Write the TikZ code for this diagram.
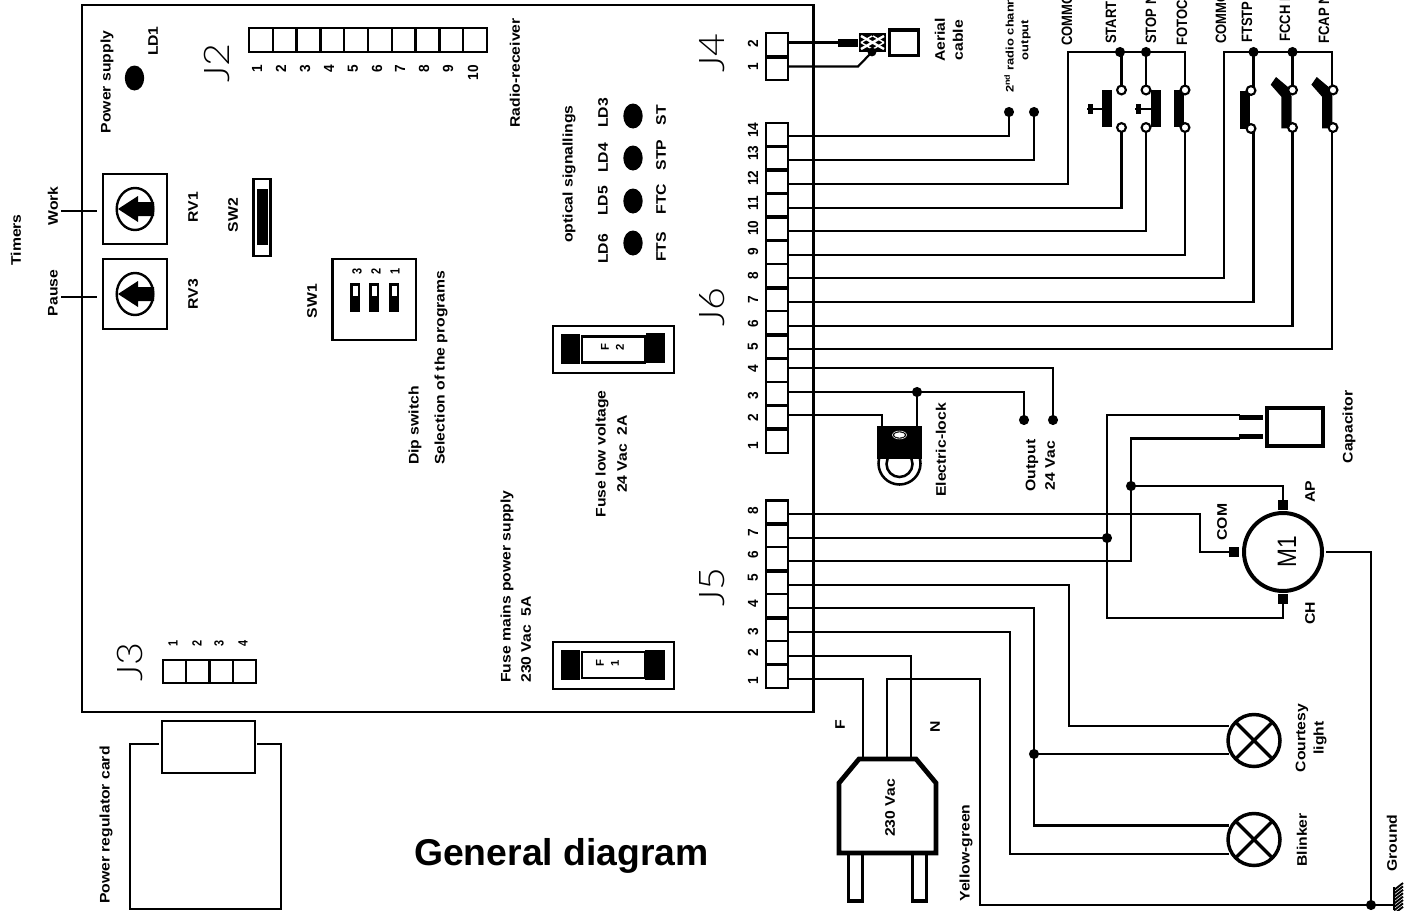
\documentclass[tikz,border=0pt]{standalone}
\usepackage{fontspec}
\setmainfont{Liberation Sans}
\newfontface\lfface[FakeStretch=1.135]{Liberation Sans Bold}
\newfontface\topface[FakeStretch=0.87]{Liberation Sans Bold}
\newfontface\smface[FakeStretch=1.18]{Liberation Sans Bold}
\newfontface\numface[FakeStretch=0.93]{Liberation Sans Bold}
\newfontface\tnyface[FakeStretch=0.82]{Liberation Sans Bold}
\newfontface\fuface{Liberation Sans Bold}
\newfontface\connface[FakeStretch=1.12]{Lato Light}
\newcommand{\lf}{\lfface\fontsize{10.4pt}{12pt}\selectfont}
\newcommand{\topf}{\topface\fontsize{11.25pt}{13pt}\selectfont}
\newcommand{\smf}{\smface\fontsize{8.2pt}{10pt}\selectfont}
\newcommand{\numf}{\numface\fontsize{11pt}{12pt}\selectfont}
\newcommand{\tnyf}{\tnyface\fontsize{10pt}{11pt}\selectfont}
\newcommand{\fuf}{\fuface\fontsize{8.5pt}{10pt}\selectfont}
\tikzset{
  lab/.style={rotate=90,inner sep=0pt,font=\lf},
  toplab/.style={rotate=90,inner sep=0pt,anchor=west,font=\topf},
  smlab/.style={rotate=90,inner sep=0pt,font=\smf},
  numlab/.style={rotate=90,inner sep=0pt,font=\numf},
  tinylab/.style={rotate=90,inner sep=0pt,font=\tnyf},
  fuselab/.style={rotate=90,inner sep=0pt,font=\fuf},
  connlab/.style={rotate=90,inner sep=0pt,font=\connface\fontsize{26.5pt}{28pt}\selectfont},
  wire/.style={line width=1.6pt,line join=miter,line cap=rect},
  box/.style={line width=1.8pt},
  dot/.style={circle,fill=black,inner sep=0pt,minimum size=7.6pt},
  contact/.style={circle,draw=black,fill=white,line width=1.6pt,inner sep=0pt,minimum size=6.6pt},
  led/.style={fill=black,draw=none}
}
\begin{document}
\begin{tikzpicture}[x=0.75pt,y=-0.75pt]
\useasboundingbox (0,0) rectangle (1406,910);
\clip (0,0) rectangle (1406,910);
\fill[white] (0,0) rectangle (1406,910);

% ---- board
\draw[box] (82,5) rectangle (813.5,712);

% ---- terminal coordinates
\foreach \n/\y in {14/136,13/160,12/184,11/208,10/231,9/255,8/278,7/302,6/326,5/349,4/368,3/392,2/415}
  \coordinate (t6-\n) at (789,\y);
\foreach \n/\y in {8/514,7/538,6/561,5/585,4/608,3/632,2/656,1/679}
  \coordinate (t5-\n) at (789,\y);
\coordinate (t4-2) at (789,42.5);
\coordinate (t4-1) at (789,66.5);

% ---- connector J2
\foreach \i in {1,...,10} \draw[box] ({249+(\i-1)*23.8},28) rectangle ({249+\i*23.8},52);
\foreach \i/\x in {1/257,2/281,3/305,4/329,5/353,6/377,7/400,8/424,9/448,10/473}
  \node[numlab,anchor=east] (j2n\i) at (\x,65) {\i};
\node[connlab] (J2lab) at (217,63) {J2};

% ---- connector J3
\foreach \i in {1,...,4} \draw[box] ({163+(\i-1)*23.25},660) rectangle ({163+\i*23.25},683);
\foreach \i/\x in {1/173,2/197,3/219,4/243}
  \node[tinylab] (j3n\i) at (\x,643) {\i};
\node[connlab] (J3lab) at (130,662) {J3};

% ---- connector J4
\draw[box] (766,33) rectangle (788,80);
\draw[line width=2.6pt] (766,57) -- (788,57);
\node[numlab] (j4n2) at (753,44) {2};
\node[numlab] (j4n1) at (753,67) {1};
\node[connlab] (J4lab) at (712,53) {J4};

% ---- connector J6
\draw[box] (766,123) rectangle (788,453);
\foreach \k/\w in {1/2.6,2/2.6,3/2.6,4/2.6,5/2.6,6/1.6,7/2.6,8/1.6,9/2.6,10/2.6,11/1.6,12/2.6,13/2.6}
  \draw[line width=\w pt] (766,{123+\k*23.55}) -- (788,{123+\k*23.55});
\foreach \n/\y in {14/130,13/153,12/178,11/203,10/228,9/252,8/276,7/300,6/324,5/347,4/369,3/396,2/418,1/446}
  \node[numlab] (j6n\n) at (753,\y) {\n};
\node[connlab] (J6lab) at (712,307) {J6};

% ---- connector J5
\draw[box] (766,500.5) rectangle (788,688);
\foreach \k/\w in {1/2.8,2/1.6,3/2.8,4/1.6,5/2.8,6/1.6,7/2.8}
  \draw[line width=\w pt] (766,{500.5+\k*23.44}) -- (788,{500.5+\k*23.44});
\foreach \n/\y in {8/511,7/533,6/555,5/578,4/604,3/632,2/653,1/681}
  \node[numlab] (j5n\n) at (753,\y) {\n};
\node[connlab] (J5lab) at (712,587) {J5};

% ---- LED power
\fill[led] (134.5,78) ellipse (9.7 and 12.5);
\node[lab] (psu) at (107,82) {Power supply};
\node[lab,anchor=east] (ld1) at (153,26) {LD1};
\node[lab] (radio) at (515,73) {Radio-receiver};

% ---- timers
\node[lab] (timers) at (16,240) {Timers};
\node[lab] (work) at (53,206) {Work};
\node[lab] (pause) at (53,293) {Pause};
\coordinate (wa) at (62,211); \coordinate (wb) at (96,211);
\coordinate (pa) at (62,297); \coordinate (pb) at (96,297);
\draw[wire] (wa) -- (wb);
\draw[wire] (pa) -- (pb);
\foreach \yy/\nm in {174/1,259/3}{
  \draw[box] (103,\yy) rectangle (167,\yy+70);
  \draw[box] (135,\yy+35) ellipse (18.3 and 21);
  \fill[black] (118,\yy+35) -- (138,\yy+22) -- (138,\yy+28) -- (154,\yy+28) -- (154,\yy+42) -- (138,\yy+42) -- (138,\yy+48) -- cycle;
}
\node[lab] (rv1) at (193,207) {RV1};
\node[lab] (rv3) at (193,294) {RV3};

% ---- SW2
\node[lab] (sw2lab) at (233,215) {SW2};
\draw[box] (253.5,179) rectangle (270.5,256);
\fill[black] (257,189) rectangle (267.5,245);

% ---- SW1
\node[lab] (sw1lab) at (312,301) {SW1};
\draw[box] (332.5,259) rectangle (416,340);
\foreach \x/\i in {350/3,369/2,389/1}{
  \fill[black] (\x,283) rectangle (\x+10,312);
  \fill[white] (\x+2.5,285.5) rectangle (\x+7.5,296);
}
\foreach \i/\x in {3/357,2/376,1/395}
  \node[tinylab] (sw1n\i) at (\x,271) {\i};
\node[lab,anchor=west] (dip) at (415,465) {Dip switch};
\node[lab,anchor=west] (sel) at (441,465) {Selection of the programs};

% ---- optical signallings
\node[lab] (opt) at (569,174) {optical signallings};
\foreach \y/\t in {113/LD3,158/LD4,201/LD5,249/LD6}
  \node[lab] (n\t) at (603,\y) {\t};
\foreach \y in {116,158,201,243}
  \fill[led] (633,\y) ellipse (9.7 and 12.5);
\foreach \y/\t in {115/ST,155/STP,199/FTC,247/FTS}
  \node[lab] (n\t) at (661,\y) {\t};

% ---- fuse F2
\draw[line width=2pt] (553,326) rectangle (674,373);
\fill[black] (561,334) rectangle (580,363.5);
\fill[black] (646,333) rectangle (665,363);
\draw[box] (582,336.5) rectangle (645,362.5);
\node[fuselab] (f2a) at (605,347) {F};
\node[fuselab] (f2b) at (620,347) {2};
\node[lab] (fl1) at (602,454) {Fuse low voltage};
\node[lab] (fl2) at (622,454) {24 Vac\ \ 2A};

% ---- fuse F1
\draw[line width=2pt] (553,642) rectangle (674,689);
\fill[black] (561,650) rectangle (580,680);
\fill[black] (645,650) rectangle (665,680);
\draw[box] (582,652) rectangle (645,678);
\node[fuselab] (f1a) at (600,663) {F};
\node[fuselab] (f1b) at (615,663) {1};
\node[lab,anchor=west] (fm1) at (507,683) {Fuse mains power supply};
\node[lab,anchor=west] (fm2) at (526,683) {230 Vac\ \ 5A};

% ---- power regulator card
\coordinate (prA) at (159,744); \coordinate (prB) at (257,744);
\draw[box] (prA) -- (130,744) -- (130,909) -- (281,909) -- (281,744) -- (prB);
\draw[box] (162,721) rectangle (255,773);
\node[lab] (prc) at (106,825) {Power regulator card};
\node[inner sep=0pt,font=\fontsize{28pt}{30pt}\selectfont\bfseries] (title) at (561.5,856) {General diagram};

% ---- aerial
\fill[black] (838,38.5) rectangle (858,47);
\fill[black] (859,33) rectangle (886,52);
\draw[white,line width=1.8pt] (861,36) -- (884,49) (861,49) -- (884,36);
\draw[white,line width=1.1pt] (861,42.5) -- (872,36) (884,42.5) -- (873,36) (861,42.5) -- (872,49) (884,42.5) -- (873,49);
\draw[line width=2.8pt] (889.5,30) rectangle (918.5,55.5);
\coordinate (aer) at (872,52);
\coordinate (shA) at (838,42.5);
\coordinate (kA) at (858,66.5);
\draw[wire] (t4-2) -- (shA);
\draw[wire] (t4-1) -- (kA) -- (aer);
\node[dot,minimum size=6.6pt] (aerdot) at (aer) {};
\node[lab] (ae1) at (940,40) {Aerial};
\node[lab] (ae2) at (958,40) {cable};

% ---- J6 outputs
\node[dot] (r2a) at (1009,112) {};
\node[dot] (r2b) at (1034,112) {};
\draw[wire] (t6-14) -| (r2a);
\draw[wire] (t6-13) -| (r2b);
\node[smlab,anchor=west] (r2lab) at (1009,93) {2\textsuperscript{nd} radio chann};
\node[smlab] (r2out) at (1026,40) {output};

% switches: coordinates
\coordinate (com1) at (1068,52);
\coordinate (jS) at (1120,52);
\coordinate (jP) at (1146,52);
\coordinate (com1e) at (1185,52);
\coordinate (com2) at (1224,52);
\coordinate (jF) at (1253.5,52);
\coordinate (jC) at (1292.5,52);
\coordinate (com2e) at (1332,52);
\draw[wire] (t6-12) -| (com1) -- (com1e) -- (1185,90);
\draw[wire] (1121.5,52) -- (1121.5,90);
\draw[wire] (jP) -- (1146,90);
\draw[wire] (t6-8) -| (com2) -- (com2e) -- (1332,90);
\draw[wire] (jF) -- (1253.5,90);
\draw[wire] (jC) -- (1292.5,90);
\draw[wire] (t6-11) -| (1121.5,127);
\draw[wire] (t6-10) -| (1146,127);
\draw[wire] (t6-9) -| (1185,127);
\draw[wire] (t6-7) -| (1253.5,128);
\draw[wire] (t6-6) -| (1292.5,127);
\draw[wire] (t6-5) -| (1332,127);
\node[dot] (dS) at (jS) {};
\node[dot] (dP) at (jP) {};
\node[dot] (dF) at (jF) {};
\node[dot] (dC) at (jC) {};
% switch bodies
\fill[black] (1102,90) rectangle (1112,127);
\draw[wire] (1088,109) -- (1102,109);
\fill[black] (1088,104) rectangle (1093,114);
\fill[black] (1151,90) rectangle (1161,127);
\draw[wire] (1136,109) -- (1151,109);
\fill[black] (1136,104) rectangle (1141,114);
\fill[black] (1174,90) rectangle (1184,127);
\fill[black] (1240,91) rectangle (1250,129);
\fill[black] (1281.3,128.3) -- (1291.7,128.3) -- (1291.7,96.7) -- (1288.3,87.3) -- (1276,77) -- (1270.7,84.7) -- (1281.3,96.7) -- cycle;
\fill[black] (1322,128.3) -- (1332.4,128.3) -- (1332.4,96.7) -- (1329,87.3) -- (1316.7,77) -- (1311.4,84.7) -- (1322,96.7) -- cycle;
% contacts
\foreach \nm/\x/\y in {a/1121.5/90,b/1121.5/127.5,c/1146/90,d/1146/127.5,e/1185/90,f/1185/127.5,g/1251/90.5,h/1251/128.5,i/1292.5/90,j/1292.5/127.5,k/1333/90,l/1333/127.5}
  \node[contact] (ct\nm) at (\x,\y) {};
% labels at top
\node[toplab] (lb1) at (1067,46) {COMMO};
\node[toplab] (lb2) at (1111,44) {START};
\node[toplab] (lb3) at (1151,44) {STOP N};
\node[toplab] (lb4) at (1182,46) {FOTOC};
\node[toplab] (lb5) at (1221,44) {COMMO};
\node[toplab] (lb6) at (1247,43) {FTSTP};
\node[toplab] (lb7) at (1285,42) {FCCH N};
\node[toplab] (lb8) at (1324,44) {FCAP N};

% ---- output 24 Vac, electric lock
\node[dot] (o24a) at (1024,420) {};
\node[dot] (o24b) at (1053,420) {};
\node[dot] (lockd) at (917,392) {};
\draw[wire] (t6-4) -| (o24b);
\draw[wire] (t6-3) -| (o24a);
\coordinate (lockA) at (882,426);
\coordinate (lockB) at (917,426);
\draw[wire] (t6-2) -| (lockA);
\draw[wire] (lockd) -- (lockB);
\draw[line width=1.9pt] (899.5,464) circle (13);
\draw[line width=1.9pt] (899.5,463.5) circle (21);
\fill[white] (870,440) rectangle (930,458);
\fill[black] (877,426) rectangle (922,458.5);
\draw[white,fill=white,line width=0.4pt] (899.5,435) ellipse (5 and 2.3);
\draw[white,line width=0.4pt] (899.5,435) ellipse (7 and 4);
\node[lab] (elock) at (941,450) {Electric-lock};
\node[lab] (out1) at (1032,465.5) {Output};
\node[lab] (out2) at (1050,465.5) {24 Vac};

% ---- motor and capacitor
\coordinate (capU) at (1239,415);
\coordinate (capL) at (1239,438.5);
\coordinate (mCOM) at (1229,552);
\coordinate (mAP) at (1283,500);
\coordinate (mCH) at (1283,603);
\coordinate (mOUT) at (1327,552);
\coordinate (gnd) at (1371,905);
\coordinate (v1t) at (1107,415);
\coordinate (v2t) at (1131,438.5);
\draw[wire] (t5-8) -- (1200,514) -- (1200,552) -- (mCOM);
\draw[wire] (t5-7) -- (1107,538);
\draw[wire] (t5-6) -- (1131,561) -- (v2t) -- (capL);
\draw[wire] (capU) -- (v1t) -- (1107,618) -- (1283,618) -- (mCH);
\draw[wire] (1131,486) -- (1283,486) -- (mAP);
\node[dot] (dm1) at (1107,538) {};
\node[dot] (dm2) at (1131,486) {};
\fill[black] (1239,414.5) rectangle (1263,419.5);
\fill[black] (1239,433.5) rectangle (1263,438.5);
\draw[line width=3pt] (1267,408) rectangle (1323,446);
\draw[line width=3pt] (1283,552) circle (39);
\fill[black] (1229,547) rectangle (1239,557);
\fill[black] (1278,500) rectangle (1288,510);
\fill[black] (1278,594) rectangle (1288,603.5);
\node[rotate=90,inner sep=0pt,font=\fontsize{20pt}{22pt}\selectfont] (m1) at (1287,552) {\scalebox{0.85}[1]{M1}};
\node[lab] (lcap) at (1349,427) {Capacitor};
\node[lab] (lcom) at (1222,522) {COM};
\node[lab] (lap) at (1310,492) {AP};
\node[lab] (lch) at (1310,613) {CH};
\draw[wire] (mOUT) -- (1371,552) -- (gnd);

% ---- lamps
\foreach \nm/\cy in {cl/740.5,bl/839.5}{
  \draw[line width=2.6pt] (1254,\cy) circle (26);
  \draw[line width=2.6pt] (1235.6,\cy-18.4) -- (1272.4,\cy+18.4) (1235.6,\cy+18.4) -- (1272.4,\cy-18.4);
}
\coordinate (l1a) at (1228,726); \coordinate (l1b) at (1228,754);
\coordinate (l2a) at (1228,825.5); \coordinate (l2b) at (1228,853.7);
\draw[wire] (t5-5) -| (1069,726) -- (l1a);
\draw[wire] (t5-4) -| (1034,825.5) -- (l2a);
\draw[wire] (1034,754) -- (l1b);
\draw[wire] (t5-3) -| (1010,853.7) -- (l2b);
\node[dot] (dl) at (1034,754) {};
\node[lab] (lc1) at (1302,738) {Courtesy};
\node[lab] (lc2) at (1320,738) {light};
\node[lab] (lb) at (1302,840) {Blinker};

% ---- plug
\coordinate (pF) at (863,758);
\coordinate (pE) at (887,758);
\coordinate (pN) at (911,758);
\coordinate (yg) at (980,905);
\draw[wire] (t5-1) -| (pF);
\draw[wire] (t5-2) -| (pN);
\draw[wire] (pE) |- (980,679) -- (yg) -- (1394,905);
\node[dot] (dg) at (gnd) {};
\draw[line width=3.6pt,line join=miter] (859,759) -- (916,759) -- (936,783) -- (936,853) -- (839,853) -- (839,783) -- cycle;
\foreach \x in {847,911}
  \draw[line width=2.6pt] (\x+1.5,853) -- (\x+1.5,901) -- (\x+15.5,901) -- (\x+15.5,853);
\node[lab] (lF) at (840,725) {F};
\node[lab] (lN) at (935,727) {N};
\node[lab] (l230) at (890,808) {230 Vac};
\node[lab] (lyg) at (966,853) {Yellow-green};

% ---- ground
\node[lab] (lgnd) at (1392,843) {Ground};
\draw[line width=2pt] (1394,887) -- (1394,910);
\foreach \k in {0,...,7}
  \draw[line width=1.4pt] (1394,{890+\k*3.4}) -- (1403,{883+\k*3.4});
\end{tikzpicture}
\end{document}
